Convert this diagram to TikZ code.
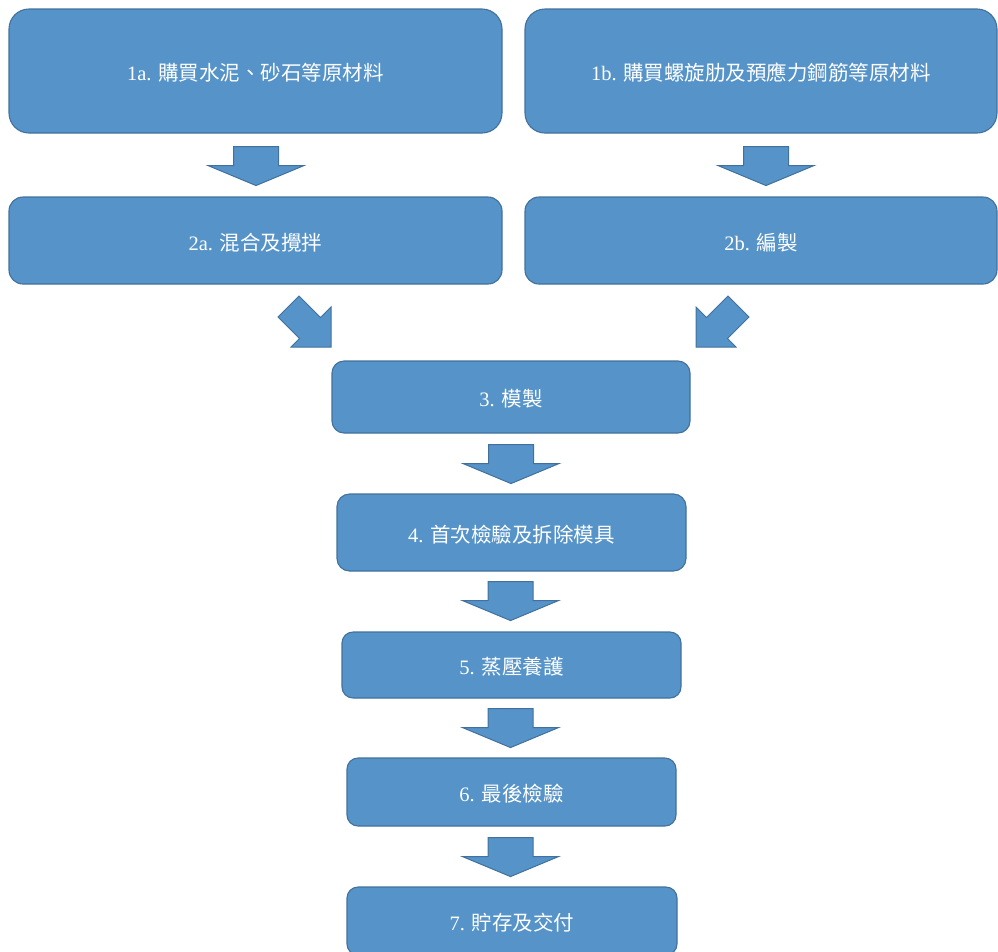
\documentclass[tikz,border=0pt]{standalone}
\usepackage{fontspec}
\setmainfont{Liberation Serif}
\newfontfamily\cjk{Noto Sans CJK TC}
\usetikzlibrary{calc}
\definecolor{boxc}{HTML}{5593C8}
\definecolor{edgec}{HTML}{41719C}
\newcommand{\boxlbl}[2]{\raisebox{0pt}[22pt][2.5pt]{#1 {\cjk #2}}}
\tikzset{
  box/.style={draw=edgec, fill=boxc, line width=1.1pt, text=white, inner sep=0pt,
    font=\fontsize{20.5}{24}\selectfont},
  blockarrow/.style={draw=edgec, fill=boxc, line width=1pt, line join=miter},
  downarr/.pic={\path[blockarrow] (-22.5,0) -- (22.5,0) -- (22.5,19) -- (48,19) -- (0,39) -- (-48,19) -- (-22.5,19) -- cycle;}
}
\begin{document}
\begin{tikzpicture}[x=1pt,y=-1pt]
\clip (0,0) rectangle (998,951);
\node[box, minimum width=493pt, minimum height=124pt, rounded corners=20pt] (b1a) at (255.5,71) {\boxlbl{1a.}{購買水泥、砂石等原材料}};
\node[box, minimum width=472pt, minimum height=124pt, rounded corners=20pt] (b1b) at (761,71) {\boxlbl{1b.}{購買螺旋肋及預應力鋼筋等原材料}};
\node[box, minimum width=493pt, minimum height=87pt, rounded corners=14pt] (b2a) at (255.5,240.5) {\boxlbl{2a.}{混合及攪拌}};
\node[box, minimum width=472pt, minimum height=87pt, rounded corners=14pt] (b2b) at (761,240.5) {\boxlbl{2b.}{編製}};
\node[box, minimum width=358pt, minimum height=72pt, rounded corners=12pt] (b3) at (511,397) {\boxlbl{3.}{模製}};
\node[box, minimum width=349pt, minimum height=77pt, rounded corners=12.5pt] (b4) at (511.5,532.5) {\boxlbl{4.}{首次檢驗及拆除模具}};
\node[box, minimum width=339pt, minimum height=66pt, rounded corners=11pt] (b5) at (511.5,665) {\boxlbl{5.}{蒸壓養護}};
\node[box, minimum width=329pt, minimum height=68pt, rounded corners=11pt] (b6) at (511.5,792) {\boxlbl{6.}{最後檢驗}};
\node[box, minimum width=330pt, minimum height=68pt, rounded corners=11pt] (b7) at (512,921) {\boxlbl{7.}{貯存及交付}};
% down block arrows
\pic at ($(b1a.south)+(0.5,13)$) {downarr};
\pic at ($(b1b.south)+(5,13)$) {downarr};
\pic at ($(b3.south)+(0,11)$) {downarr};
\pic at ($(b4.south)+(-1,10)$) {downarr};
\pic at ($(b5.south)+(-1,10)$) {downarr};
\pic at ($(b6.south)+(-1,11)$) {downarr};
% diagonal block arrows
\path[blockarrow] (299,296) -- (320.5,317.5) -- (331,307) -- (331,347) -- (291,347) -- (299.5,338.5) -- (278,317) -- cycle;
\path[blockarrow] (728,296) -- (706.5,317.5) -- (696,307) -- (696,347) -- (736,347) -- (727.5,338.5) -- (749,317) -- cycle;
\end{tikzpicture}
\end{document}
